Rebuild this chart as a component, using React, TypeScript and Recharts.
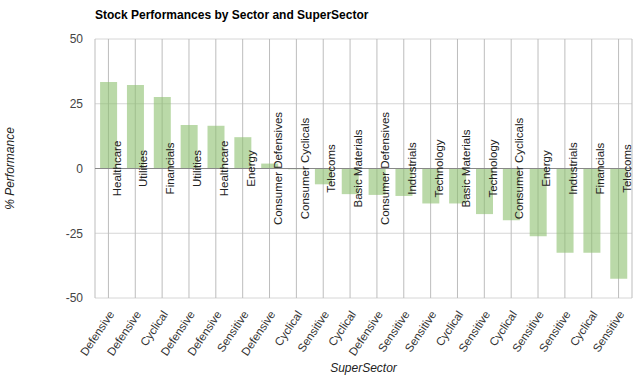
import { BarChart, Bar, XAxis, YAxis, CartesianGrid, ReferenceLine, LabelList, Label } from 'recharts';

const SUPER_SECTORS = [
  'Defensive', 'Defensive', 'Cyclical', 'Defensive', 'Defensive',
  'Sensitive', 'Defensive', 'Cyclical', 'Sensitive', 'Cyclical',
  'Defensive', 'Sensitive', 'Sensitive', 'Cyclical', 'Sensitive',
  'Cyclical', 'Sensitive', 'Sensitive', 'Cyclical', 'Sensitive',
];

const SECTORS = [
  'Healthcare', 'Utilities', 'Financials', 'Utilities', 'Healthcare',
  'Energy', 'Consumer Defensives', 'Consumer Cyclicals', 'Telecoms', 'Basic Materials',
  'Consumer Defensives', 'Industrials', 'Technology', 'Basic Materials', 'Technology',
  'Consumer Cyclicals', 'Energy', 'Industrials', 'Financials', 'Telecoms',
];

const PERFORMANCE = [
  33.4, 32.2, 27.6, 16.8, 16.5,
  12.1, 1.9, -0.3, -6.1, -9.9,
  -10.2, -10.6, -13.5, -13.5, -17.6,
  -20.0, -26.2, -32.5, -32.5, -42.6,
];

const Y_TICKS = [-50, -25, 0, 25, 50];

const data = SUPER_SECTORS.map((s, i) => ({
  key: i,
  superSector: s,
  sector: SECTORS[i],
  value: PERFORMANCE[i],
}));

const FONT = 'Liberation Sans, Arial, sans-serif';

const SuperSectorTick = (props: any) => {
  const { x, y, payload } = props;
  const tx = x + 3;
  const ty = y + 6;
  return (
    <text
      x={tx}
      y={ty}
      dy="0.35em"
      textAnchor="end"
      transform={`rotate(-56, ${tx}, ${ty})`}
      fill="#333"
      fontSize={11.5}
      fontFamily={FONT}
    >
      {SUPER_SECTORS[payload.index] ?? payload.value}
    </text>
  );
};

// sector name, rotated, centred on the zero line just right of the bar centre
const SectorLabel = (props: any) => {
  const { x, y, width, height, index, value } = props;
  const v = PERFORMANCE[index];
  const zeroY = v >= 0 ? Math.max(y, y + height) : Math.min(y, y + height);
  const px = x + width / 2 + 8;
  return (
    <text
      x={px}
      y={zeroY}
      dy="0.35em"
      textAnchor="middle"
      transform={`rotate(-90, ${px}, ${zeroY})`}
      fill="#222"
      fontSize={11.5}
      fontFamily={FONT}
    >
      {value}
    </text>
  );
};

export default function App() {
  return (
    <div style={{ position: 'absolute', left: 0, top: 0, width: 640, height: 375, background: '#fff', fontFamily: FONT }}>
      <div style={{ position: 'absolute', left: 95, top: 9, fontSize: 12, lineHeight: '12px', fontWeight: 'bold', color: '#000' }}>
        Stock Performances by Sector and SuperSector
      </div>
      <BarChart
        width={640}
        height={375}
        data={data}
        margin={{ top: 39, right: 8, bottom: 0, left: 0 }}
        barCategoryGap="19%"
      >
        <CartesianGrid vertical={false} stroke="#d6d6d6" />
        <CartesianGrid horizontal={false} stroke="#bdbdbd" />
        <XAxis
          dataKey="key"
          type="category"
          height={77}
          axisLine={false}
          tickLine={false}
          interval={0}
          tick={<SuperSectorTick />}
        >
          <Label value="SuperSector" position="insideBottom" offset={3} fill="#222" fontSize={12} fontStyle="italic" fontFamily={FONT} />
        </XAxis>
        <YAxis
          width={95}
          domain={[-50, 50]}
          ticks={Y_TICKS}
          axisLine={false}
          tickLine={false}
          tickMargin={6}
          tick={{ fill: '#444', fontSize: 12, fontFamily: FONT }}
        >
          <Label
            value="% Performance"
            angle={-90}
            position="insideLeft"
            offset={10}
            fill="#222"
            fontSize={12}
            fontStyle="italic"
            fontFamily={FONT}
            style={{ textAnchor: 'middle' }}
          />
        </YAxis>
        <Bar dataKey="value" fill="#8cc06e" fillOpacity={0.6} isAnimationActive={false}>
          <LabelList dataKey="sector" content={<SectorLabel />} />
        </Bar>
        <ReferenceLine y={0} stroke="#888" />
      </BarChart>
    </div>
  );
}
